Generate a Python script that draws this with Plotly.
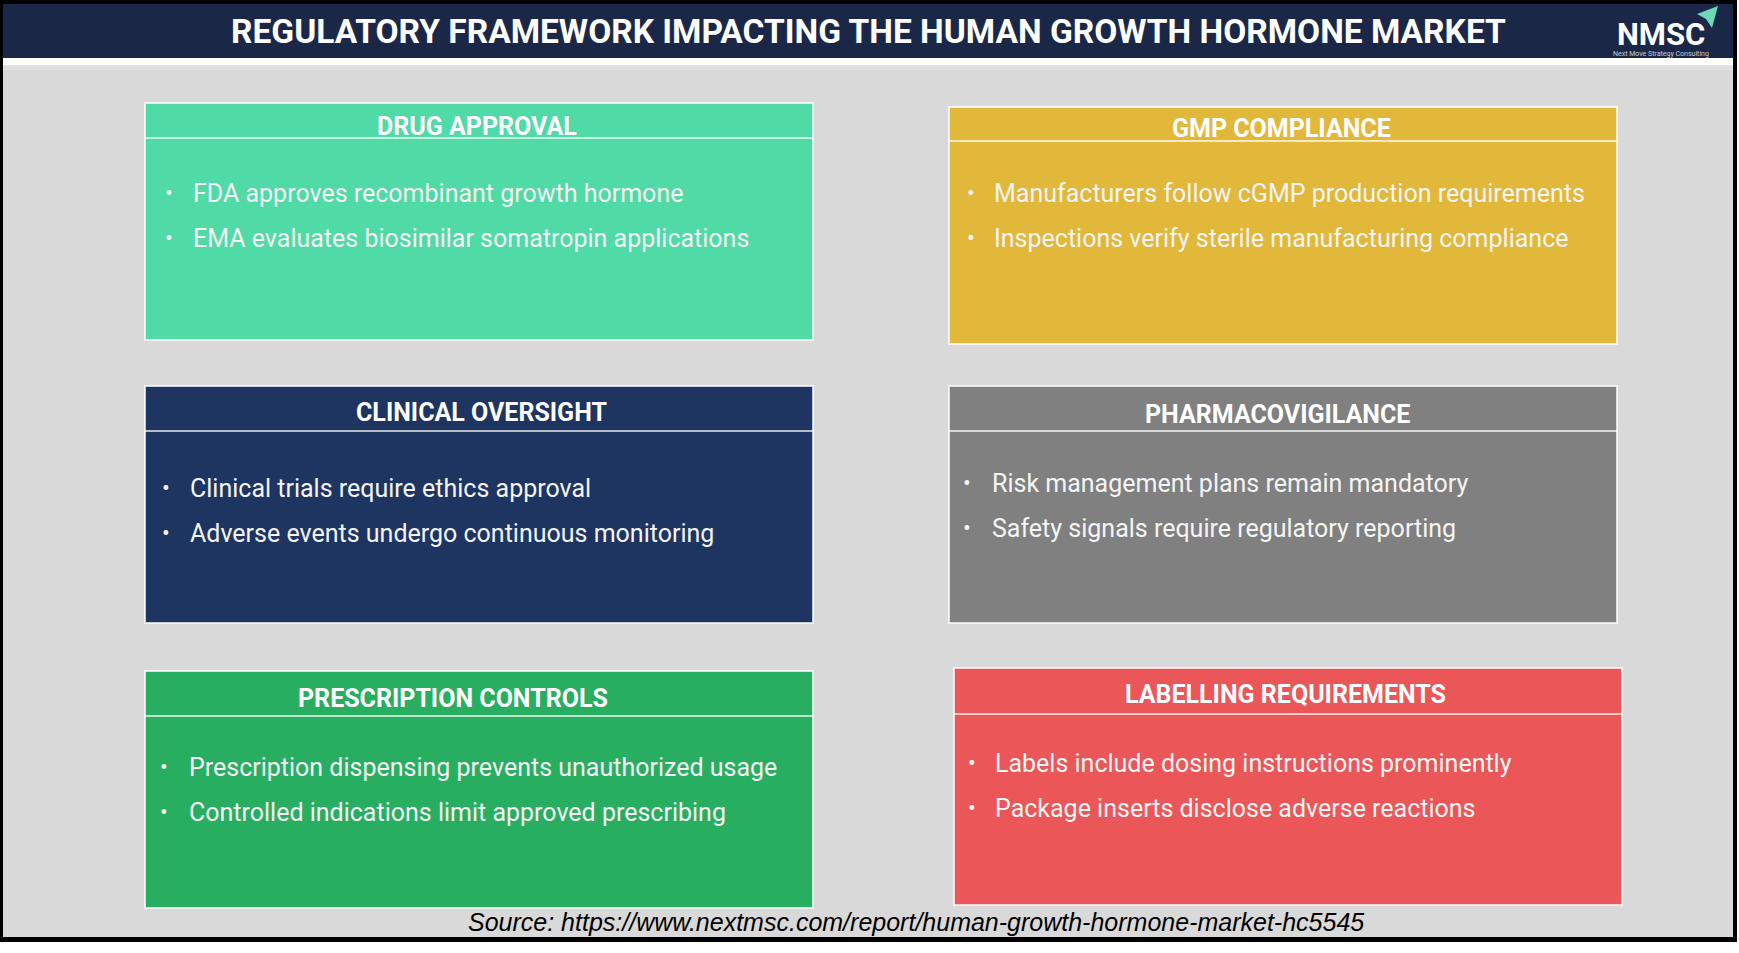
import plotly.graph_objects as go

# ---------------- data ----------------
main_title = "REGULATORY FRAMEWORK IMPACTING THE HUMAN GROWTH HORMONE MARKET"
source_text = "Source: https://www.nextmsc.com/report/human-growth-hormone-market-hc5545"

box_titles = [
    "DRUG APPROVAL",
    "GMP COMPLIANCE",
    "CLINICAL OVERSIGHT",
    "PHARMACOVIGILANCE",
    "PRESCRIPTION CONTROLS",
    "LABELLING REQUIREMENTS",
]
bullet_first = [
    "FDA approves recombinant growth hormone",
    "Manufacturers follow cGMP production requirements",
    "Clinical trials require ethics approval",
    "Risk management plans remain mandatory",
    "Prescription dispensing prevents unauthorized usage",
    "Labels include dosing instructions prominently",
]
bullet_second = [
    "EMA evaluates biosimilar somatropin applications",
    "Inspections verify sterile manufacturing compliance",
    "Adverse events undergo continuous monitoring",
    "Safety signals require regulatory reporting",
    "Controlled indications limit approved prescribing",
    "Package inserts disclose adverse reactions",
]
box_colors = ["#4FDAA6", "#E2B83A", "#1E3461", "#808080", "#28AE61", "#EB5658"]

# ---------------- layout constants ----------------
W, H = 1739, 953
COL_X = [145, 949]
ROW_Y = [104, 386, 670]
BOX_W, BOX_H = 668, 237
nudge_x = [0, 0, 0, 0, 0, 5]
nudge_y = [-1, 3, 0, 0, 1, -2]
header_h = [35, 34, 45, 45, 45, 46]
title_dy = [23, 21, 26, 28, 27, 26]
title_dx = [-2, -2, 2, -6, -26, -3]
bullet_dy = [90, 86, 102, 97, 96, 95]
bullet_gap = 45
dot_dx = [18, 16, 15, 12, 13, 12]
text_dx = [46, 43, 43, 41, 42, 39]

FONT = "Roboto"

fig = go.Figure()
fig.add_trace(go.Scatter(x=[0, W], y=[0, H], mode="markers",
                         marker=dict(opacity=0), hoverinfo="skip", showlegend=False))

shapes = []
annotations = []

# frame / background
shapes.append(dict(type="rect", xref="x", yref="y", x0=0, y0=0, x1=1737, y1=942,
                   fillcolor="black", line=dict(width=0), layer="below"))
shapes.append(dict(type="rect", xref="x", yref="y", x0=3, y0=4, x1=1733, y1=937,
                   fillcolor="#D9D9D9", line=dict(width=0), layer="below"))
shapes.append(dict(type="rect", xref="x", yref="y", x0=3, y0=65, x1=1733, y1=70,
                   fillcolor="#E0E0E0", line=dict(width=0), layer="below"))
shapes.append(dict(type="rect", xref="x", yref="y", x0=3, y0=58, x1=1733, y1=65,
                   fillcolor="#FFFFFF", line=dict(width=0), layer="below"))
shapes.append(dict(type="rect", xref="x", yref="y", x0=3, y0=4, x1=1733, y1=58,
                   fillcolor="#1A2746", line=dict(width=0), layer="below"))

annotations.append(dict(x=868, y=31, xref="x", yref="y", text="<b>" + main_title + "</b>",
                        showarrow=False, xanchor="center", yanchor="middle",
                        font=dict(family=FONT, size=33.5, color="white")))

# logo
annotations.append(dict(x=1661, y=34, xref="x", yref="y", text="<b>NMSC</b>",
                        showarrow=False, xanchor="center", yanchor="middle",
                        font=dict(family=FONT, size=31, color="white")))
annotations.append(dict(x=1661, y=54, xref="x", yref="y", text="Next Move Strategy Consulting",
                        showarrow=False, xanchor="center", yanchor="middle",
                        font=dict(family=FONT, size=7, color="#C8CCD6")))
shapes.append(dict(type="path", xref="x", yref="y",
                   path="M 1697 14 L 1718 6 L 1712 28 L 1706 19 Z",
                   fillcolor="#6FD6B6", line=dict(width=0)))

# boxes
for i in range(len(box_titles)):
    col, row = i % 2, i // 2
    x0 = COL_X[col] + nudge_x[i]
    y0 = ROW_Y[row] + nudge_y[i]
    x1, y1 = x0 + BOX_W, y0 + BOX_H
    shapes.append(dict(type="rect", xref="x", yref="y", x0=x0, y0=y0, x1=x1, y1=y1,
                       fillcolor=box_colors[i],
                       line=dict(color="rgba(255,255,255,0.75)", width=2)))
    shapes.append(dict(type="line", xref="x", yref="y", x0=x0, x1=x1,
                       y0=y0 + header_h[i], y1=y0 + header_h[i],
                       line=dict(color="rgba(255,255,255,0.9)", width=1.5)))
    annotations.append(dict(x=(x0 + x1) / 2 + title_dx[i], y=y0 + title_dy[i],
                            xref="x", yref="y", text="<b>" + box_titles[i] + "</b>",
                            showarrow=False, xanchor="center", yanchor="middle",
                            font=dict(family=FONT, size=25, color="white")))
    for k, txt in enumerate([bullet_first[i], bullet_second[i]]):
        yy = y0 + bullet_dy[i] + k * bullet_gap
        annotations.append(dict(x=x0 + dot_dx[i], y=yy, xref="x", yref="y", text="•",
                                showarrow=False, xanchor="left", yanchor="middle",
                                font=dict(family=FONT, size=23, color="#F4F4F4")))
        annotations.append(dict(x=x0 + text_dx[i], y=yy, xref="x", yref="y", text=txt,
                                showarrow=False, xanchor="left", yanchor="middle",
                                font=dict(family=FONT, size=25, color="#F4F4F4")))

annotations.append(dict(x=916, y=922, xref="x", yref="y", text="<i>" + source_text + "</i>",
                        showarrow=False, xanchor="center", yanchor="middle",
                        font=dict(family="Liberation Sans", size=25, color="black")))

fig.update_layout(
    width=W, height=H, margin=dict(l=0, r=0, t=0, b=0),
    paper_bgcolor="white", plot_bgcolor="white",
    xaxis=dict(range=[0, W], visible=False, fixedrange=True),
    yaxis=dict(range=[H, 0], visible=False, fixedrange=True),
    shapes=shapes, annotations=annotations, showlegend=False,
)

fig.write_html("out.html", config={"displayModeBar": False},
               post_script="document.body.style.margin='0';document.body.style.overflow='hidden';")
